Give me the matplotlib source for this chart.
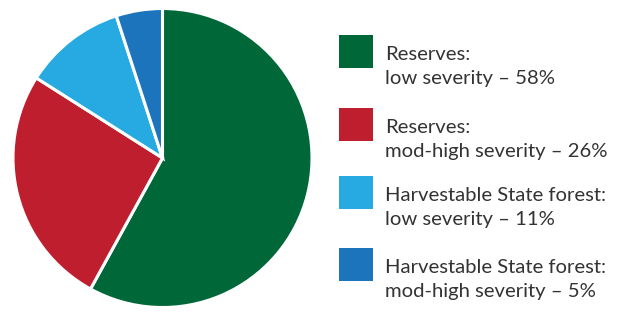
import matplotlib
matplotlib.use("Agg")
import matplotlib.pyplot as plt
from matplotlib.patches import Rectangle

labels = ["Reserves:\nlow severity \u2013 58%",
          "Reserves:\nmod-high severity \u2013 26%",
          "Harvestable State forest:\nlow severity \u2013 11%",
          "Harvestable State forest:\nmod-high severity \u2013 5%"]
values = [58, 26, 11, 5]
colors = ["#006838", "#BE1E2D", "#27AAE1", "#1C75BC"]

W, H = 622, 314
fig = plt.figure(figsize=(W / 100, H / 100), dpi=100)
ax = fig.add_axes([0, 0, 1, 1])
ax.axis("off")

# pie (y axis inverted -> counterclock=True gives clockwise on screen)
wedges, _ = ax.pie(values, colors=colors, startangle=-90, counterclock=True,
                   center=(162.5, 158), radius=149.5,
                   wedgeprops=dict(edgecolor="white", linewidth=2.2))
ax.set_xlim(0, W)
ax.set_ylim(H, 0)
ax.set_aspect("equal")

# legend
box_x, box_w, box_h = 339, 34, 33
tops = [35, 108, 176, 248]
for lab, col, top in zip(labels, colors, tops):
    ax.add_patch(Rectangle((box_x, top), box_w, box_h, facecolor=col, edgecolor="none"))
    for i, line in enumerate(lab.split("\n")):
        ax.text(385, top + 25 + 24 * i, line, fontsize=14.6, family="Lato",
                color="#333333", va="baseline", ha="left")

fig.savefig("out.png", dpi=100)
